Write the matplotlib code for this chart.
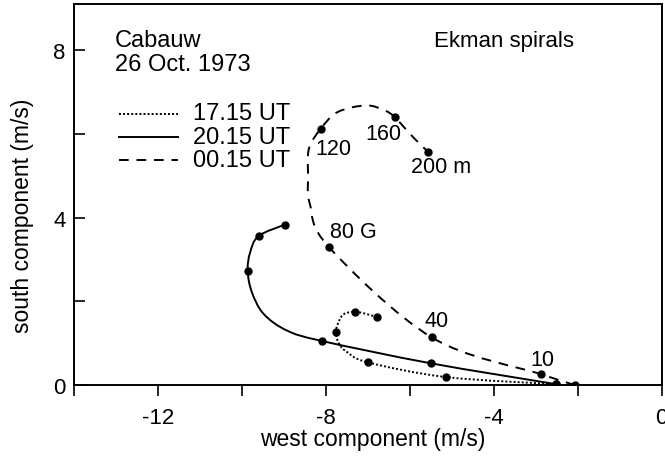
import numpy as np
import matplotlib
matplotlib.use("Agg")
from matplotlib import pyplot as plt
from matplotlib.path import Path
from matplotlib.patches import PathPatch
from matplotlib.lines import Line2D

plt.rcParams['font.family'] = ['Liberation Sans', 'DejaVu Sans']
plt.rcParams['axes.unicode_minus'] = False

# measured points (west, south components in m/s), surface upwards
pts_1715_x = [-2.51, -5.13, -6.99, -7.76, -7.30, -6.78]
pts_1715_y = [0.02, 0.19, 0.54, 1.26, 1.75, 1.62]
pts_2015_x = [-2.51, -5.50, -8.08, -9.86, -9.60, -8.98]
pts_2015_y = [0.02, 0.52, 1.05, 2.73, 3.56, 3.83]
pts_0015_x = [-2.06, -2.88, -5.48, -7.92, -8.12, -6.36, -5.56]
pts_0015_y = [0.00, 0.26, 1.14, 3.29, 6.12, 6.40, 5.57]

# hand-drawn curves (they pass through the points)
curve_1715_x = [-2.51, -5.13, -6.99, -7.48, -7.68, -7.76, -7.68, -7.56,
                -7.30, -7.04, -6.78]
curve_1715_y = [0.02, 0.19, 0.54, 0.78, 0.98, 1.26, 1.54, 1.70, 1.75,
                1.70, 1.62]
curve_2015_x = [-2.51, -5.50, -8.08, -8.92, -9.48, -9.76, -9.86, -9.80,
                -9.60, -8.98]
curve_2015_y = [0.02, 0.52, 1.05, 1.30, 1.70, 2.22, 2.73, 3.17, 3.56, 3.83]
curve_0015_x = [-2.06, -2.88, -5.48, -7.92, -8.38, -8.42, -8.40, -8.12,
                -7.72, -7.04, -6.60, -6.36, -5.89, -5.56]
curve_0015_y = [0.00, 0.26, 1.14, 3.29, 4.33, 5.01, 5.65, 6.12, 6.52,
                6.68, 6.56, 6.40, 5.89, 5.57]

# height labels along the 00.15 UT spiral
height_labels = ['10', '40', '80 G', '120', '160', '200 m']
label_x = [-3.12, -5.64, -7.91, -8.25, -7.05, -5.97]
label_y = [0.62, 1.53, 3.66, 5.65, 6.00, 5.22]

series = [
    ('17.15 UT', pts_1715_x, pts_1715_y, curve_1715_x, curve_1715_y, (0, (1, 1.1))),
    ('20.15 UT', pts_2015_x, pts_2015_y, curve_2015_x, curve_2015_y, '-'),
    ('00.15 UT', pts_0015_x, pts_0015_y, curve_0015_x, curve_0015_y, (0, (5, 4))),
]


def smooth_path(xs, ys, k=1 / 6):
    # Catmull-Rom style cubic Bezier through the given points
    p = np.column_stack([xs, ys])
    ext = np.vstack([p[0], p, p[-1]])
    verts = [p[0]]
    codes = [Path.MOVETO]
    for i in range(len(p) - 1):
        p0, p1, p2, p3 = ext[i], ext[i + 1], ext[i + 2], ext[i + 3]
        verts += [p1 + k * (p2 - p0), p2 - k * (p3 - p1), p2]
        codes += [Path.CURVE4] * 3
    return Path(verts, codes)


fig = plt.figure(figsize=(6.65, 4.64), dpi=100)
ax = fig.add_axes([0.111, 0.168, 0.884, 0.821])

for name, px, py, cx, cy, ls in series:
    ax.add_patch(PathPatch(smooth_path(cx, cy), fill=False, ec='black',
                           lw=1.4, ls=ls))
    ax.plot(px, py, 'o', color='black', ms=5)

for t, x, y in zip(height_labels, label_x, label_y):
    ax.text(x, y, t, fontsize=15.5, ha='left', va='center')

ax.set_xlim(-14, 0)
ax.set_ylim(0, 9.1)
ax.set_xticks([-12, -8, -4, 0])
ax.set_xticks([-14, -10, -6, -2], minor=True)
ax.set_yticks([0, 4, 8])
ax.set_yticks([2, 6], minor=True)
ax.tick_params(axis='x', which='both', direction='out', length=8, width=1.2,
               labelsize=16, pad=8)
ax.tick_params(axis='y', which='both', direction='in', length=8, width=1.2,
               labelsize=16, pad=6)
for s in ax.spines.values():
    s.set_linewidth(1.4)

ax.set_xlabel('west component (m/s)', fontsize=16.5)
ax.set_ylabel('south component (m/s)', fontsize=16.5)
ax.xaxis.set_label_coords(0.508, -0.110)
ax.yaxis.set_label_coords(-0.067, 0.446)

ax.text(0.07, 0.890, 'Cabauw', transform=ax.transAxes, fontsize=17,
        va='baseline')
ax.text(0.07, 0.827, '26 Oct. 1973', transform=ax.transAxes, fontsize=17,
        va='baseline')
ax.text(0.612, 0.890, 'Ekman spirals', transform=ax.transAxes, fontsize=16,
        va='baseline')

# hand-drawn legend
leg_text_y = [0.698, 0.636, 0.575]
leg_line_y = [0.711, 0.652, 0.591]
for (name, px, py, cx, cy, ls), ty, ly in zip(series, leg_text_y, leg_line_y):
    ax.add_line(Line2D([0.077, 0.177], [ly, ly], transform=ax.transAxes,
                       color='black', lw=1.4, ls=ls))
    ax.text(0.202, ty, name, transform=ax.transAxes, fontsize=17,
            va='baseline')

fig.savefig('out.png', dpi=100)
